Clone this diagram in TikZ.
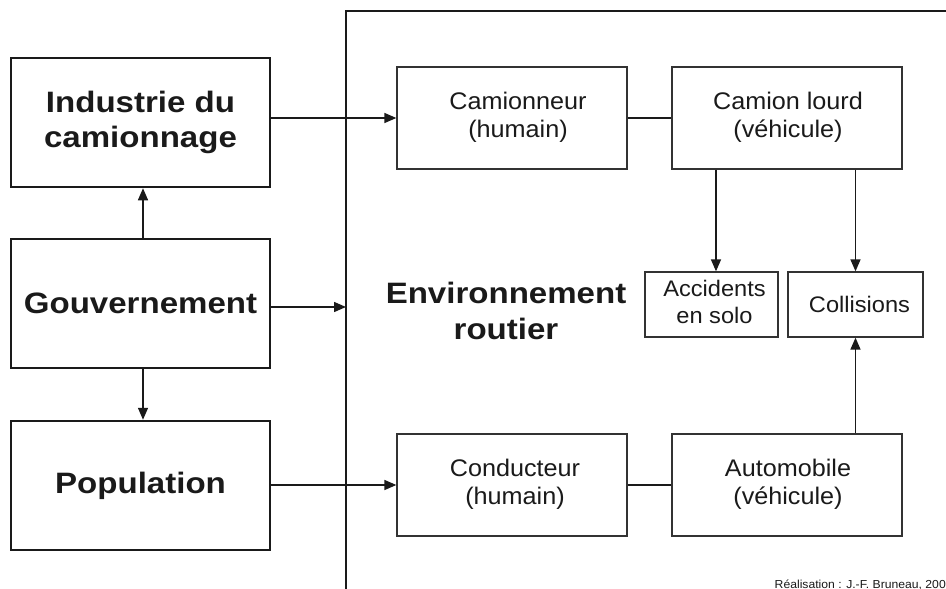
\documentclass[tikz,border=0pt]{standalone}
\usepackage{fontspec}
\setmainfont{Liberation Sans}[FakeStretch=1.05]
\newfontfamily\widebold{Liberation Sans}[FakeStretch=1.12]
\usetikzlibrary{arrows.meta}
\definecolor{ink}{HTML}{1A1A1A}
\definecolor{frame}{HTML}{333333}
\newcommand{\twoline}[3]{\hspace*{#1}\raisebox{-3pt}{\begin{tabular}{@{}c@{}}#2\\#3\end{tabular}}}
\tikzset{
  bigbox/.style={draw=ink, line width=2.5pt, inner sep=0pt, minimum width=259pt, minimum height=129pt,
    align=center, text=ink, font=\widebold\bfseries\fontsize{29.5}{36}\selectfont},
  smallbox/.style={draw=frame, line width=1.3pt, inner sep=0pt, minimum width=230pt, minimum height=102pt,
    align=center, text=ink, font=\fontsize{24}{28.5}\selectfont},
  outbox/.style={draw=frame, line width=1.3pt, inner sep=0pt, minimum height=65pt,
    align=center, text=ink, font=\fontsize{22.5}{27}\selectfont},
  conn/.style={draw=ink, line width=1.4pt},
  arr/.style={conn, -{Triangle[length=12pt,width=10pt]}},
}
\begin{document}
\begin{tikzpicture}[x=1pt,y=-1pt]
\useasboundingbox[fill=white] (0,0) rectangle (946,589);
% environment frame
\draw[ink, line width=2.2pt] (346,595) -- (346,11) -- (952,11);
\coordinate (envL) at (346,307);
% left boxes
\node[bigbox] (ind) at (140.5,122.5) {\raisebox{-4pt}{\begin{tabular}{@{}c@{}}Industrie du\\[-1pt]camionnage\end{tabular}}};
\node[bigbox] (gouv) at (140.5,303.5) {Gouvernement};
\node[bigbox] (pop) at (140.5,485.5) {\raisebox{-2pt}{Population}};
% right boxes
\node[smallbox] (cam) at (512,118) {\twoline{12pt}{Camionneur}{(humain)}};
\node[smallbox] (lourd) at (787,118) {\twoline{2pt}{Camion lourd}{(véhicule)}};
\node[smallbox] (cond) at (512,485) {\twoline{6pt}{Conducteur}{(humain)}};
\node[smallbox] (auto) at (787,485) {\twoline{2pt}{Automobile}{(véhicule)}};
\node[outbox, minimum width=133pt] (acc) at (711.5,304.5) {\twoline{6pt}{Accidents}{en solo}};
\node[outbox, minimum width=135pt] (coll) at (855.5,304.5) {\hspace*{8pt}\raisebox{-2pt}{Collisions}};
% label
\node[align=center, text=ink, font=\widebold\bfseries\fontsize{29.5}{36}\selectfont] (env) at (506,310.5) {Environnement\\routier};
\node[anchor=base east, inner sep=0pt, text=ink, font=\fontsize{11.6}{13}\selectfont] (credit) at (946,588) {Réalisation : J.-F. Bruneau, 200};
% connectors
\draw[arr] (ind.east |- cam.west) -- (cam.west);
\draw[arr] (gouv.east |- envL) -- (envL);
\draw[arr] (pop.east |- cond.west) -- (cond.west);
\draw[arr] ([xshift=2.5pt]gouv.north) -- ([xshift=2.5pt]ind.south);
\draw[arr] ([xshift=2.5pt]gouv.south) -- ([xshift=2.5pt]pop.north);
\draw[conn] (cam.east) -- (lourd.west);
\draw[conn] (cond.east) -- (auto.west);
\draw[arr] ([xshift=4.5pt]acc.north |- lourd.south) -- ([xshift=4.5pt]acc.north);
\draw[arr] (coll.north |- lourd.south) -- (coll.north);
\draw[arr] (coll.south |- auto.north) -- (coll.south);
\end{tikzpicture}
\end{document}
